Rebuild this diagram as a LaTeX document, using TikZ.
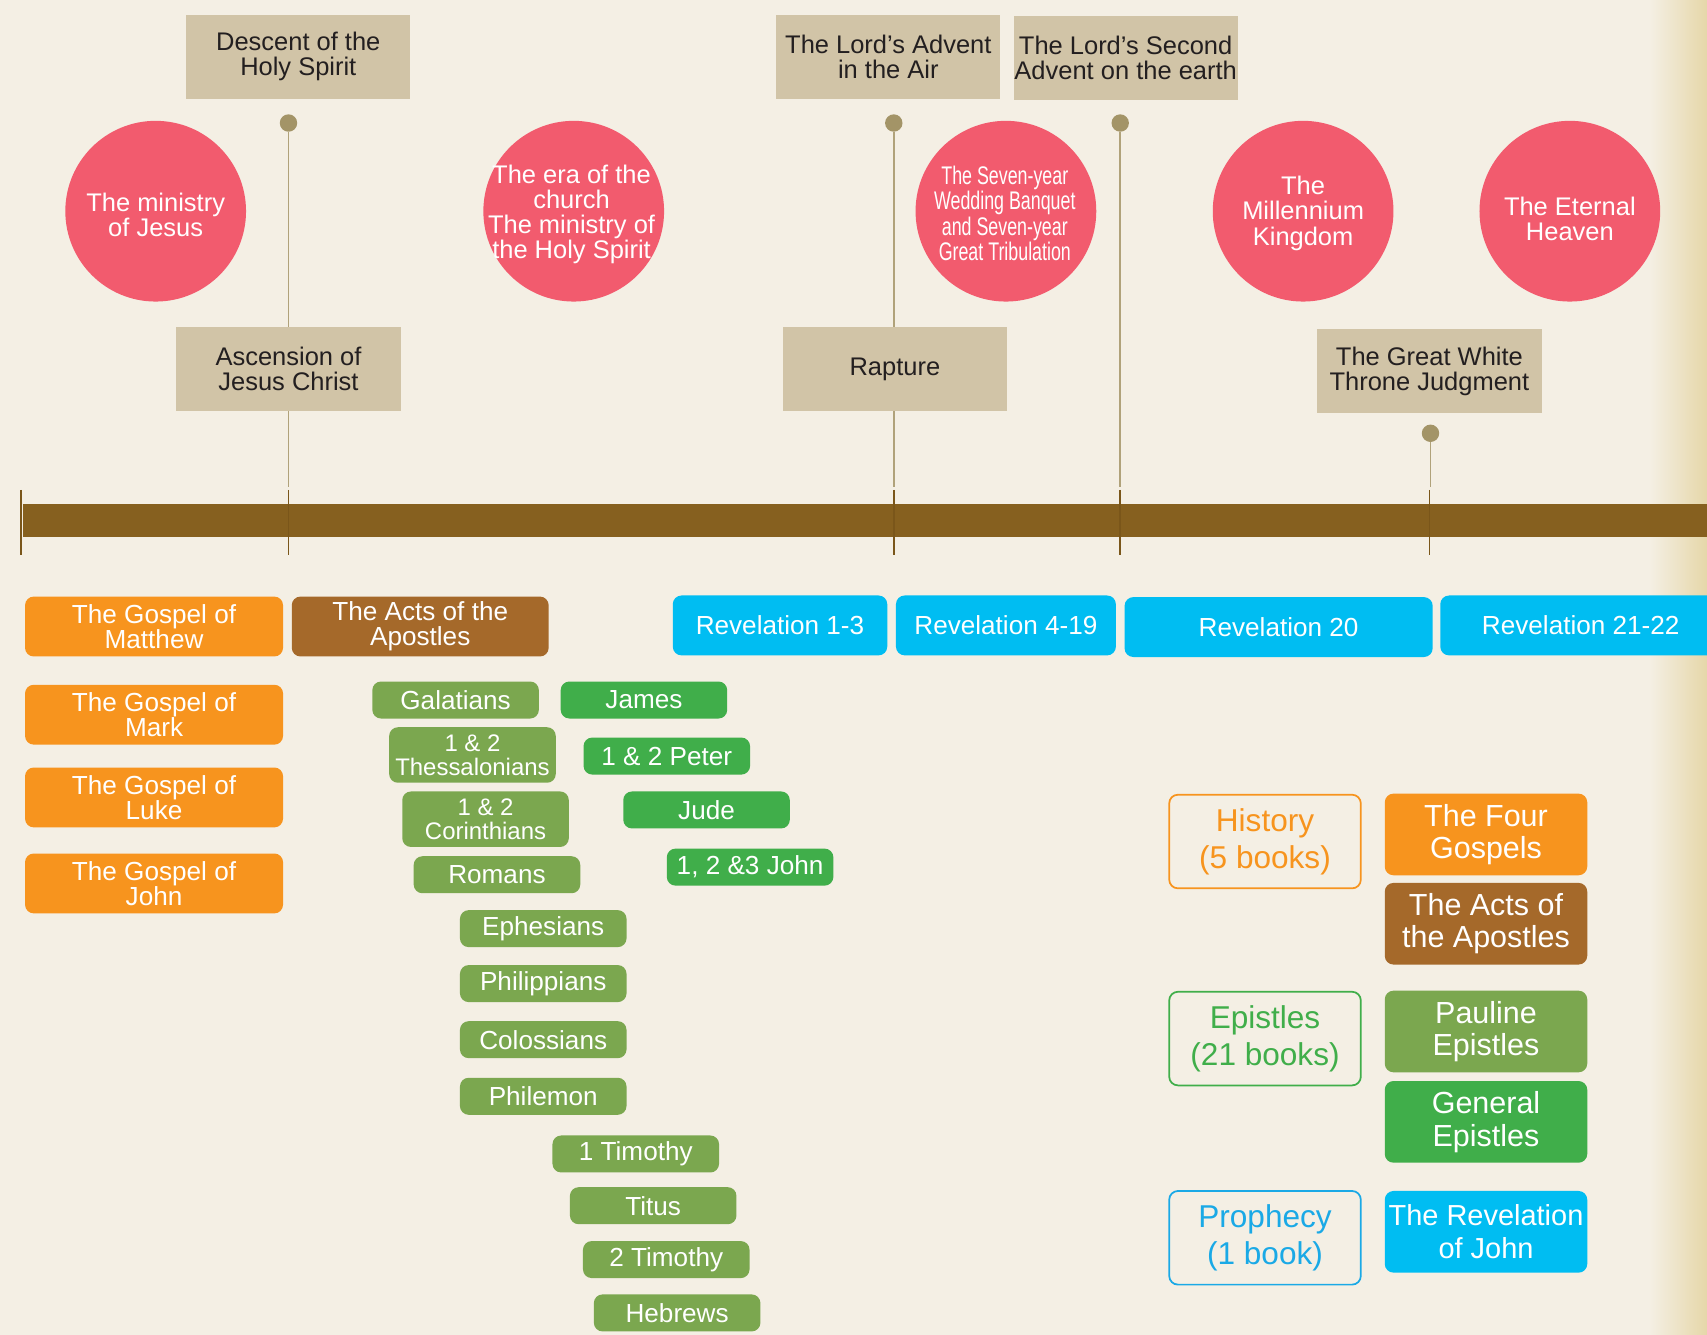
\documentclass[tikz,border=0pt]{standalone}
\usepackage{fontspec}
\setmainfont{Liberation Sans}
\definecolor{paper}{HTML}{F4EFE4}
\definecolor{paperedge}{HTML}{E6D7A9}
\definecolor{tanbox}{HTML}{D1C4A7}
\definecolor{inkdark}{HTML}{231F20}
\definecolor{erared}{HTML}{F25B6E}
\definecolor{pinbrown}{HTML}{A39467}
\definecolor{stembrown}{HTML}{B0A27A}
\definecolor{barbrown}{HTML}{86601F}
\definecolor{tickbrown}{HTML}{7A561A}
\definecolor{gospelorange}{HTML}{F7941E}
\definecolor{actsbrown}{HTML}{A5692A}
\definecolor{paulgreen}{HTML}{7BA74F}
\definecolor{generalgreen}{HTML}{40AE4A}
\definecolor{revcyan}{HTML}{00BDF2}
\definecolor{prophcyan}{HTML}{1AA9E6}
\newcommand\narrowtext[1]{\scalebox{0.7}[1]{#1}}
\begin{document}
\begin{tikzpicture}[x=0.5pt,y=-0.5pt,
  event/.style={fill=tanbox,text=inkdark,minimum width=103pt,minimum height=38.5pt,inner sep=0pt,align=center,font=\fontsize{11.7}{11.5}\selectfont},
  era/.style={circle,fill=erared,minimum size=83pt,inner sep=0pt},
  eratext/.style={text=white,inner sep=0pt,align=center,font=\fontsize{11.7}{11.5}\selectfont},
  pin/.style={circle,fill=pinbrown,minimum size=8pt,inner sep=0pt},
  stem/.style={stembrown,line width=0.8pt},
  tick/.style={tickbrown,line width=0.8pt},
  book/.style={rounded corners=4pt,text=white,inner sep=0pt,align=center,font=\fontsize{12}{11.5}\selectfont},
  gospel/.style={book,fill=gospelorange,minimum width=118.5pt,minimum height=27.5pt},
  acts/.style={book,fill=actsbrown,minimum width=118pt,minimum height=27.5pt},
  rev/.style={book,fill=revcyan,minimum height=27.5pt},
  pauline/.style={book,fill=paulgreen,minimum width=76.5pt,minimum height=17pt},
  paulinetwo/.style={pauline,minimum height=25.5pt,font=\fontsize{11}{11.2}\selectfont},
  general/.style={book,fill=generalgreen,minimum width=76.5pt,minimum height=17pt},
  genre/.style={draw=#1,text=#1,line width=0.8pt,rounded corners=4pt,minimum width=88pt,minimum height=43pt,inner sep=0pt,align=center,font=\fontsize{14.5}{17}\selectfont},
  key/.style={book,fill=#1,minimum width=93pt,minimum height=37.5pt,font=\fontsize{14}{15}\selectfont}]
\useasboundingbox (0,0) rectangle (1568,1226);
% paper
\fill[paper] (0,0) rectangle (1568,1226);
\shade[left color=paper,right color=paperedge] (1515,0) rectangle (1568,1226);
% timeline
\fill[barbrown] (21,463) rectangle (1580,493);
\foreach \x in {19,265,821,1029,1313} \draw[tick] (\x,450) -- (\x,510);
% pins and stems
\node[pin] (pDescent) at (265,113) {};
\node[pin] (pAir) at (821,113) {};
\node[pin] (pSecond) at (1029,113) {};
\node[pin] (pThrone) at (1314,398) {};
\coordinate (tDescent) at (265,447);
\coordinate (tAir) at (821,447);
\coordinate (tSecond) at (1029,447);
\coordinate (tThrone) at (1314,447);
\draw[stem] (pDescent) -- (tDescent);
\draw[stem] (pAir) -- (tAir);
\draw[stem] (pSecond) -- (tSecond);
\draw[stem] (pThrone) -- (tThrone);
% events
\node[event] (descent) at (274,52) {Descent of the\\Holy Spirit};
\node[event] (advent) at (816,52) {The Lord’s Advent\\in the Air};
\node[event] (second) at (1034,53) {The Lord’s Second\\Advent on the earth};
\node[event] (ascension) at (265,339) {Ascension of\\Jesus Christ};
\node[event] (rapture) at (822,339) {Rapture};
\node[event] (throne) at (1313,341) {The Great White\\Throne Judgment};
% eras
\node[era] (ministry) at (143,194) {};
\node[era] (church) at (527,194) {};
\node[era] (banquet) at (924,194) {};
\node[era] (millennium) at (1197,194) {};
\node[era] (heaven) at (1442,194) {};
\node[eratext] (ministryText) at (143,197) {The ministry\\of Jesus};
\node[eratext] (churchText) at (525,197) {The era of the\\church\\The ministry of\\the Holy Spirit};
\node[eratext] (banquetText) at (923,196) {\narrowtext{The Seven-year}\\\narrowtext{Wedding Banquet}\\\narrowtext{and Seven-year}\\\narrowtext{Great Tribulation}};
\node[eratext] (millenniumText) at (1197,196) {The\\Millennium\\Kingdom};
\node[eratext] (heavenText) at (1442,201) {The Eternal\\Heaven};
% books
\node[gospel] (matthew) at (141.5,575.5) {The Gospel of\\Matthew};
\node[gospel] (mark) at (141.5,656.5) {The Gospel of\\Mark};
\node[gospel] (luke) at (141.5,732.5) {The Gospel of\\Luke};
\node[gospel] (john) at (141.5,811.5) {The Gospel of\\John};
\node[acts] (actsbook) at (386,575.5) {The Acts of the\\Apostles};
\node[rev,minimum width=98.5pt] (rev1) at (716.5,574.5) {Revelation 1-3};
\node[rev,minimum width=101pt] (rev4) at (924,574.5) {Revelation 4-19};
\node[rev,minimum width=141.5pt] (rev20) at (1174.5,576) {Revelation 20};
\node[rev,minimum width=129pt] (rev21) at (1452,574.5) {Revelation 21-22};
\node[pauline] (galatians) at (418.5,643) {Galatians};
\node[paulinetwo] (thess) at (434,693.5) {1 \& 2\\Thessalonians};
\node[paulinetwo] (cor) at (446,752.5) {1 \& 2\\Corinthians};
\node[pauline] (romans) at (456.5,803.5) {Romans};
\node[pauline] (ephesians) at (499,853) {Ephesians};
\node[pauline] (philippians) at (499,903.5) {Philippians};
\node[pauline] (colossians) at (499,955) {Colossians};
\node[pauline] (philemon) at (499,1007) {Philemon};
\node[pauline] (timothyA) at (584,1060) {1 Timothy};
\node[pauline] (titus) at (600,1107.5) {Titus};
\node[pauline] (timothyB) at (612,1157) {2 Timothy};
\node[pauline] (hebrews) at (622,1206) {Hebrews};
\node[general] (james) at (591.5,643) {James};
\node[general] (peter) at (612.5,694.5) {1 \& 2 Peter};
\node[general] (jude) at (649,744) {Jude};
\node[general] (johnletters) at (689,796.5) {1, 2 \&3 John};
% key
\node[genre=gospelorange] (history) at (1162,773) {History\\(5 books)};
\node[genre=generalgreen] (epistles) at (1162,954) {Epistles\\(21 books)};
\node[genre=prophcyan] (prophecy) at (1162,1137) {Prophecy\\(1 book)};
\node[key=gospelorange] (kGospels) at (1365,766.5) {The Four\\Gospels};
\node[key=actsbrown] (kActs) at (1365,848.5) {The Acts of\\the Apostles};
\node[key=paulgreen] (kPauline) at (1365,947.5) {Pauline\\Epistles};
\node[key=generalgreen] (kGeneral) at (1365,1030.5) {General\\Epistles};
\node[key=revcyan,font=\fontsize{13.3}{15}\selectfont] (kRev) at (1365,1131.5) {The Revelation\\of John};
\end{tikzpicture}
\end{document}
